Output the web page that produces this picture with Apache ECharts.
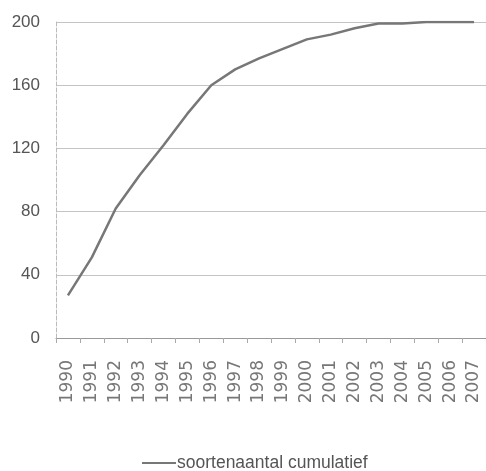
<!DOCTYPE html>
<html>
<head>
<meta charset="utf-8">
<script src="https://cdn.jsdelivr.net/npm/echarts@6/dist/echarts.min.js"></script>
<style>
    html, body { margin: 0; padding: 0; background: #fff; }
    #chart { width: 486px; height: 471px; }
</style>
</head>
<body>
<div id="chart"></div>
<script>
const years = ['1990', '1991', '1992', '1993', '1994', '1995', '1996', '1997', '1998',
    '1999', '2000', '2001', '2002', '2003', '2004', '2005', '2006', '2007'];
const cumulative = [27, 51, 82, 103, 122, 142, 160, 170, 177, 183, 189, 192, 196, 199, 199, 200, 200, 200];
const seriesName = 'soortenaantal cumulatief';

const chart = echarts.init(document.getElementById('chart'));

chart.setOption({
    animation: false,
    grid: { left: 56, right: 0, top: 22, bottom: 133 },
    legend: {
        top: 449,
        left: 137,
        itemWidth: 34,
        itemHeight: 2,
        itemGap: 0,
        icon: 'rect',
        textStyle: {
            fontFamily: 'Liberation Sans',
            fontSize: 17.5,
            color: '#555',
            padding: [0, 0, 0, -4]
        },
        data: [seriesName]
    },
    xAxis: {
        type: 'category',
        data: years,
        boundaryGap: true,
        axisLine: { lineStyle: { color: '#999' } },
        axisTick: { show: true, length: 5, lineStyle: { color: '#aaa' } },
        axisLabel: {
            rotate: 90,
            margin: 22,
            fontFamily: 'DejaVu Sans',
            fontSize: 17,
            color: '#777'
        }
    },
    yAxis: {
        type: 'value',
        min: 0,
        max: 200,
        interval: 40,
        axisLine: { show: true, lineStyle: { color: '#bbb', type: 'dashed' } },
        axisTick: { show: false },
        splitLine: { lineStyle: { color: '#c4c4c4' } },
        axisLabel: {
            margin: 16,
            fontFamily: 'Liberation Sans',
            fontSize: 17,
            color: '#555'
        }
    },
    series: [{
        name: seriesName,
        type: 'line',
        data: cumulative,
        symbol: 'none',
        itemStyle: { color: '#777' },
        lineStyle: { color: '#777', width: 2.5 }
    }]
});
</script>
</body>
</html>
